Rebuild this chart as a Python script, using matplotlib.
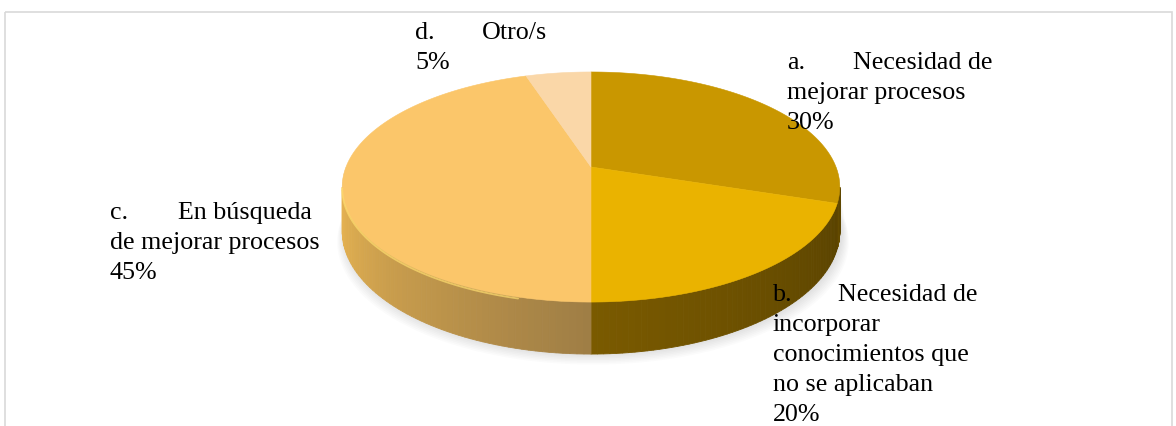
import numpy as np
import matplotlib

matplotlib.use("Agg")
import matplotlib.pyplot as plt
from matplotlib.patches import Polygon, Rectangle

# ---- data ----
letters = ["a.", "b.", "c.", "d."]
first_lines = ["Necesidad de", "Necesidad de", "En búsqueda", "Otro/s"]
rest_lines = [["mejorar procesos"],
              ["incorporar", "conocimientos que", "no se aplicaban"],
              ["de mejorar procesos"],
              []]
values = [30, 20, 45, 5]

# ---- style ----
TOP = ["#C99700", "#EAB300", "#FBC66A", "#FAD7A8"]
SIDE_L = ["#6E5300", "#7A5A00", "#E9B552", "#E9C49A"]   # side colour, left end of segment
SIDE_R = ["#5E4600", "#5A4300", "#9E7D45", "#A88F6C"]   # side colour, right end
FONT = "Liberation Serif"
FS = 18.7
LS = 30.0

# label layout: (x of letter, y of first line, x of first-line text)
label_pos = [(787, 63, 853), (773, 295, 838), (110, 213, 178), (415, 33, 482)]

# pie geometry in pixels (perspective ellipse)
CX, CY, RX = 591.0, 167.0, 245.0
PA, PC = -82.5, 0.174
DEPTH = 52 * (1 - PC)


def proj(theta, drop=0.0):
    u, v = np.cos(theta), np.sin(theta)
    w = 1 + PC * v
    return CX + RX * u / w, (PA * v + CY) / w + drop * DEPTH / w


def mix(c0, c1, t):
    a = np.array(matplotlib.colors.to_rgb(c0)); b = np.array(matplotlib.colors.to_rgb(c1))
    return tuple(a + (b - a) * t)


fig = plt.figure(figsize=(11.76, 4.26), dpi=100)
ax = fig.add_axes([0, 0, 1, 1])
ax.set_xlim(0, 1176); ax.set_ylim(426, 0); ax.axis("off")

ax.add_patch(Rectangle((4.5, 11.5), 1167, 600, fill=False, edgecolor="#D9D9D9", lw=1.2, zorder=0))

# wedge angles, clockwise from 12 o'clock
fr = np.array(values, dtype=float) / sum(values)
ends = np.pi / 2 - 2 * np.pi * np.cumsum(fr)
starts = np.concatenate([[np.pi / 2], ends[:-1]])

# soft shadow under the pie
tt = np.linspace(-np.pi, 0, 200)
for k in range(8):
    sx, sy = proj(tt, drop=1.0)
    sx = CX + (sx - CX) * (1 + 0.004 * k) + 2
    sy = sy + 1.5 * k
    top_x, top_y = proj(tt[::-1])
    ax.add_patch(Polygon(np.column_stack([np.r_[sx, top_x], np.r_[sy, top_y]]),
                         closed=True, fc="#808080", ec="none", alpha=0.03, zorder=1))

# side wall (front half only)
t_left = np.pi + np.arcsin(PC) - 2 * np.pi   # -170 deg
t_right = -np.arcsin(PC)                     # -10 deg
for i in range(len(values)):
    s0, s1 = starts[i], ends[i]
    lo, hi = min(s0, s1), max(s0, s1)
    for off in (0.0, -2 * np.pi, 2 * np.pi):
        a0, a1 = max(lo + off, t_left), min(hi + off, t_right)
        if a1 <= a0:
            continue
        th = np.linspace(a0, a1, 60)
        for k in range(len(th) - 1):
            t = (th[k] - a0) / (a1 - a0)
            col = mix(SIDE_L[i], SIDE_R[i], t)
            x0, y0 = proj(th[k]); x1, y1 = proj(th[k + 1])
            x2, y2 = proj(th[k + 1], 1.0); x3, y3 = proj(th[k], 1.0)
            ax.add_patch(Polygon([(x0, y0), (x1, y1), (x2, y2), (x3, y3)], closed=True,
                                 fc=col, ec=col, lw=0.6, zorder=2))

# top faces
for i in range(len(values)):
    th = np.linspace(starts[i], ends[i], 200)
    xs, ys = proj(th)
    pts = np.column_stack([np.r_[CX, xs], np.r_[CY, ys]])
    ax.add_patch(Polygon(pts, closed=True, fc=TOP[i], ec=TOP[i], lw=0.4, zorder=3))

# bevel highlight on the front-left rim
th = np.linspace(t_left, -np.pi / 2 - 0.25, 120)
hx, hy = proj(th)
ax.plot(hx, hy + 1.5, color="#FFDD70", lw=1.3, alpha=0.7, zorder=4, solid_capstyle="round")

# labels
for i in range(len(values)):
    lx, ly, tx = label_pos[i]
    kw = dict(family=FONT, fontsize=FS, color="black", va="center", ha="left", zorder=6)
    ax.text(lx, ly, letters[i], **kw)
    ax.text(tx, ly, first_lines[i], **kw)
    for k, line in enumerate(rest_lines[i] + [f"{values[i]}%"]):
        ax.text(lx, ly + (k + 1) * LS, line, **kw)

fig.savefig("out.png", dpi=100, facecolor="white")
